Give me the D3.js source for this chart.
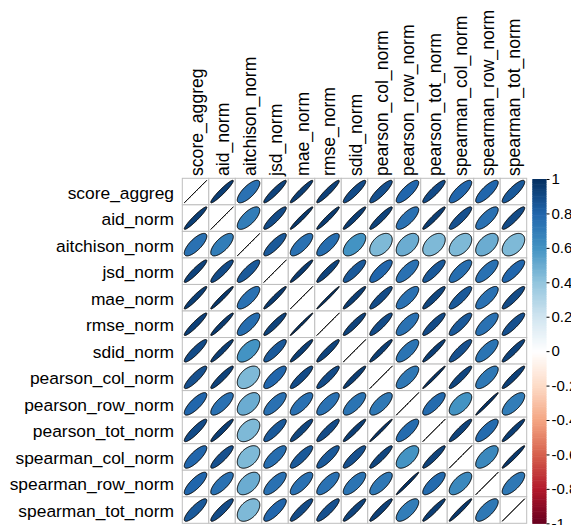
<!DOCTYPE html>
<html>
<head>
<meta charset="utf-8">
<script src="https://cdnjs.cloudflare.com/ajax/libs/d3/7.8.5/d3.min.js"></script>
<style>
  body { margin: 0; background: #fff; }
  svg { display: block; font-family: "Liberation Sans", Arial, sans-serif; }
</style>
</head>
<body>
<div id="chart"></div>
<script>
// variable names (rows and columns share the same order)
var labels = ["score_aggreg", "aid_norm", "aitchison_norm", "jsd_norm", "mae_norm",
  "rmse_norm", "sdid_norm", "pearson_col_norm", "pearson_row_norm", "pearson_tot_norm",
  "spearman_col_norm", "spearman_row_norm", "spearman_tot_norm"];

// correlation matrix
var corr = [
  [1, .95, .75, .93, .95, .94, .90, .88, .80, .90, .80, .80, .85],
  [.95, 1, .70, .90, .97, .96, .95, .93, .75, .95, .88, .75, .90],
  [.75, .70, 1, .85, .75, .77, .60, .45, .50, .45, .45, .50, .45],
  [.93, .90, .85, 1, .96, .93, .85, .80, .75, .85, .77, .75, .80],
  [.95, .97, .75, .96, 1, .99, .95, .90, .75, .92, .85, .75, .90],
  [.94, .96, .77, .93, .99, 1, .93, .90, .75, .90, .85, .75, .88],
  [.90, .95, .60, .85, .95, .93, 1, .95, .74, .95, .88, .74, .93],
  [.88, .93, .45, .80, .90, .90, .95, 1, .72, .985, .92, .72, .94],
  [.80, .75, .50, .75, .75, .75, .74, .72, 1, .78, .60, .985, .70],
  [.90, .95, .45, .85, .92, .90, .95, .985, .78, 1, .93, .78, .95],
  [.80, .88, .45, .77, .85, .85, .88, .92, .60, .93, 1, .65, .97],
  [.80, .75, .50, .75, .75, .75, .74, .72, .985, .78, .65, 1, .72],
  [.85, .90, .45, .80, .90, .88, .93, .94, .70, .95, .97, .72, 1]
];

// RdBu palette stops (corrplot COL2)
var paletteStops = ["#67001F", "#B2182B", "#D6604D", "#F4A582", "#FDDBC7", "#FFFFFF",
  "#D1E5F0", "#92C5DE", "#4393C3", "#2166AC", "#053061"];
var legendTicks = [1, 0.8, 0.6, 0.4, 0.2, 0, -0.2, -0.4, -0.6, -0.8, -1];

var W = 571, H = 525;
var svg = d3.select("#chart").append("svg").attr("width", W).attr("height", H);

var x = d3.scaleBand().domain(labels).range([182.3, 526.7]);
var y = d3.scaleBand().domain(labels).range([178.3, 523.3]);
var color = d3.scaleLinear()
  .domain(d3.range(paletteStops.length).map(function(i) { return -1 + 2 * i / (paletteStops.length - 1); }))
  .range(paletteStops)
  .interpolate(d3.interpolateRgb);

var cells = [];
corr.forEach(function(row, i) {
  row.forEach(function(v, j) {
    cells.push({ r: labels[i], c: labels[j], v: v });
  });
});

// grid
svg.append("g").selectAll("rect").data(cells).enter().append("rect")
  .attr("x", function(d) { return x(d.c); })
  .attr("y", function(d) { return y(d.r); })
  .attr("width", x.bandwidth())
  .attr("height", y.bandwidth())
  .attr("fill", "white")
  .attr("stroke", "#bebebe")
  .attr("stroke-width", 1);

// ellipse outline for a correlation rho, in unit cell coords
function ellipse(rho) {
  var d = Math.acos(Math.max(-1, Math.min(1, rho)));
  return d3.range(99).map(function(k) {
    var t = k / 98 * 2 * Math.PI;
    return [0.85 * Math.cos(t + d / 2) / 2, 0.85 * Math.cos(t - d / 2) / 2];
  });
}

var line = d3.line().curve(d3.curveLinearClosed);

svg.append("g").selectAll("path").data(cells).enter().append("path")
  .attr("d", function(d) {
    var cx = x(d.c) + x.bandwidth() / 2, cy = y(d.r) + y.bandwidth() / 2;
    var s = x.bandwidth();
    return line(ellipse(d.v).map(function(p) { return [cx + p[0] * s, cy - p[1] * s]; }));
  })
  .attr("fill", function(d) { return color(d.v); })
  .attr("stroke", "black")
  .attr("stroke-width", 1);

// row labels
svg.append("g").selectAll("text").data(labels).enter().append("text")
  .attr("x", 174)
  .attr("y", function(d) { return y(d) + y.bandwidth() / 2 + 1; })
  .attr("text-anchor", "end")
  .attr("dominant-baseline", "central")
  .attr("font-size", "17.4px")
  .text(function(d) { return d; });

// column labels
svg.append("g").selectAll("text").data(labels).enter().append("text")
  .attr("transform", function(d) { return "translate(" + (x(d) + x.bandwidth() / 2 + 1) + ",176) rotate(-90)"; })
  .attr("text-anchor", "start")
  .attr("dominant-baseline", "central")
  .attr("font-size", "17.6px")
  .text(function(d) { return d; });

// colour legend
var ly = d3.scaleLinear().domain([-1, 1]).range([523.3, 179]);
var nCol = 200;
var legendCols = d3.range(nCol).map(function(i) { return -1 + 2 * (i + 0.5) / nCol; });
var step = (ly(-1) - ly(1)) / nCol;
svg.append("g").selectAll("rect").data(legendCols).enter().append("rect")
  .attr("x", 532.3)
  .attr("y", function(d) { return ly(d) - step / 2; })
  .attr("width", 14.2)
  .attr("height", step + 0.6)
  .attr("fill", function(d) { return color(d); });

var axis = svg.append("g")
  .attr("transform", "translate(546.5,0)")
  .call(d3.axisRight(ly).tickValues(legendTicks).tickSize(3).tickPadding(2)
    .tickFormat(function(d) { return d === 0 ? "0" : String(d).replace("\u2212", "-"); }));
axis.select(".domain").remove();
axis.selectAll("text").attr("font-size", "15px").attr("font-family", "Liberation Sans, Arial, sans-serif").attr("fill", "black");
axis.selectAll("line").attr("stroke", "black");
</script>
</body>
</html>
